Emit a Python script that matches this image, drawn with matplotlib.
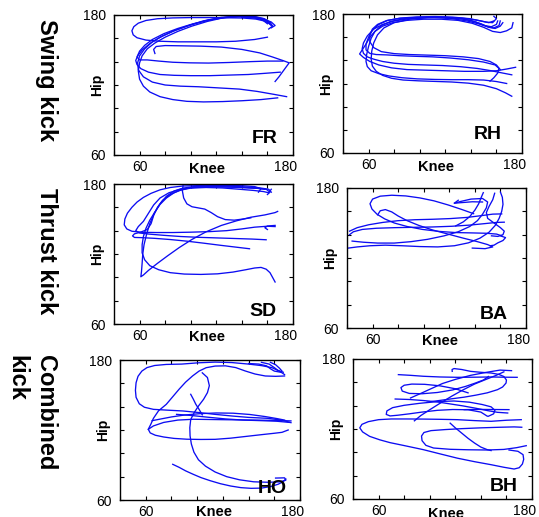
import numpy as np
import matplotlib
matplotlib.use('Agg')
import matplotlib.pyplot as plt
from matplotlib.transforms import ScaledTranslation

plt.rcParams['font.family'] = ['Liberation Sans', 'DejaVu Sans']

# (knee, hip) angle trajectories, degrees
FR = [
    [(168, 109), (155, 107.5), (140, 106.5), (125, 105.8), (110, 105.5), (97, 106), (86, 107.5), (76, 110),
     (68, 114), (63, 119), (60, 125), (59, 132), (60, 139), (62, 145), (66, 151), (72, 156), (80, 161),
     (90, 166), (101, 170.5), (113, 174.5), (125, 177.5), (137, 178.5), (148, 178), (156, 176), (160, 172.5)],
    [(175, 110), (165, 112), (152, 114.5), (138, 116.5), (122, 117.5), (106, 118.5), (92, 119), (80, 120),
     (70, 122.5), (63, 127), (59, 133), (58.5, 139), (60, 145), (64, 151), (70, 157), (78, 162), (88, 167),
     (100, 171.5), (113, 175.5), (127, 178), (140, 179), (151, 178.5), (158, 176.5), (162, 173)],
    [(170, 131), (158, 130), (145, 129), (130, 128.5), (115, 128), (100, 128), (87, 128.3), (76, 129),
     (67, 131), (61, 134), (58, 137.5), (57, 141), (58.5, 145), (62, 150), (68, 155.5), (76, 161), (86, 166),
     (97, 170.5), (110, 175), (124, 178), (137, 179), (149, 178.5), (157, 177), (162, 174), (164, 170.5)],
    [(166, 123), (169, 127), (173, 133), (177, 139), (172, 141), (164, 144), (154, 147.5), (140, 150.5),
     (124, 152.5), (108, 153.3), (92, 153.6), (80, 153.8), (73, 153), (71, 150.5), (72, 147)],
    [(172, 140.5), (160, 140.5), (146, 140), (130, 139.3), (114, 138.8), (99, 139), (86, 139.5), (75, 140.5),
     (66, 141.5), (60, 141.5), (58, 144), (60, 149), (64, 154), (70, 159), (79, 164), (90, 168.5),
     (102, 172.5), (116, 176), (130, 178.3), (143, 178.8), (153, 177.5), (159, 175), (163, 171)],
    [(160, 161), (150, 159), (135, 157.5), (120, 157), (105, 157), (90, 157), (76, 157.5), (65, 158.5),
     (58, 160.5), (55, 163), (54, 166.5), (55.5, 170), (59, 173), (65, 175.3), (74, 176.8), (86, 177.5),
     (100, 177.8), (114, 177.8), (128, 177.6), (141, 177.4), (151, 176.5), (157, 175), (161, 173),
     (164, 170.5), (161, 168)],
    [(140, 178), (150, 177.5), (158, 176), (163, 174), (166, 171), (163, 169)],
]

RH = [
    [(175, 134), (168, 132.5), (160, 131), (150, 130.5), (135, 130.5), (120, 131), (105, 131.5), (90, 132),
     (78, 133.5), (68, 136), (61, 139), (56, 142.5), (53, 145.5), (55, 149), (58, 154), (61, 160), (65, 165),
     (71, 169.5), (79, 172.5), (90, 174.5), (103, 175.5), (117, 175.5), (130, 174.5), (141, 172),
     (150, 168.5), (157, 165), (163, 164), (168, 165.5), (172, 168), (173, 172.5)],
    [(168, 120), (160, 121.7), (150, 123), (138, 123.3), (125, 123.3), (112, 123.5), (98, 124), (86, 125),
     (76, 126.5), (68, 128.5), (62, 131), (59, 134.6), (58, 139), (58.5, 145), (60, 152), (62, 159),
     (65, 165), (70, 170), (77, 173.5), (88, 176), (101, 177), (115, 177.3), (128, 176.5), (140, 174.5),
     (148, 171.5), (154, 168.5), (159, 167.5), (163, 169.5), (165, 172.5)],
    [(172, 109), (167, 112), (160, 115.5), (150, 118.5), (138, 120.3), (125, 121.3), (112, 121.8),
     (99, 122.3), (87, 123), (78, 124.5), (71, 127), (66, 130.5), (63, 135), (62, 141), (62.5, 148),
     (64, 155), (67, 162), (72, 168), (80, 172.5), (92, 175.5), (106, 176.8), (120, 177), (134, 175.8),
     (144, 173), (151, 170), (156, 169), (160, 171), (161, 174)],
    [(155, 122), (158, 125), (161, 129), (162, 133), (159, 136), (150, 138.5), (138, 140.5), (124, 142),
     (110, 143), (96, 143.5), (84, 144), (74, 144.7), (66, 145), (61, 146), (58, 149), (58, 154), (60, 160),
     (63, 166), (68, 171), (75, 174.5), (85, 176.5), (98, 177.5), (112, 177.8), (126, 177.3), (139, 176),
     (148, 174), (154, 172.5), (158, 174)],
    [(172, 127.5), (165, 129), (156, 131), (145, 133), (132, 134.5), (118, 135.5), (104, 136), (91, 136.5),
     (80, 137.5), (71, 139), (64, 141), (59, 143), (56, 146), (55, 150), (56, 155), (59, 161), (64, 167),
     (71, 171), (80, 174), (92, 176), (106, 177), (120, 177.2), (133, 176.5), (144, 174.8), (152, 173),
     (157, 172.5), (160, 176), (158, 178)],
    [(163, 132), (160, 136), (155, 139), (146, 141.5), (134, 143), (120, 144), (106, 144.5), (92, 145),
     (80, 145.8), (70, 147.5), (64, 151), (61, 156), (61, 162), (63, 167), (67, 171), (74, 174.3),
     (84, 176.2), (97, 177), (111, 177), (125, 176), (137, 174), (146, 171.5), (153, 169), (158, 168),
     (162, 170), (163, 174)],
]

SD = [
    [(166, 143.5), (160, 143.8), (150, 143), (140, 141.5), (128, 140), (115, 139.2), (100, 138.7),
     (86, 138.4), (73, 138.4), (62, 138.6), (54, 139.5), (50, 141.5), (48, 145), (48.5, 150), (50.5, 155),
     (54, 160), (58, 164.5), (63, 168.5), (69, 172), (76, 175), (84, 177), (94, 178.3), (106, 178.6),
     (120, 178.4), (134, 178), (146, 177.3), (155, 176.5), (161, 175.5), (163, 173)],
    [(166, 96), (164, 100), (162, 104), (159, 107), (155, 108.5), (150, 108), (143, 106.5), (133, 104.5),
     (121, 103), (108, 102.5), (95, 102.8), (84, 104), (75, 106.5), (68, 110), (64, 115), (62, 121),
     (62, 128), (63, 135), (65, 142), (68, 149), (72, 156), (76, 162.5), (81, 168), (87, 172.5),
     (94, 175.5), (102, 177.5), (113, 178.5), (127, 178.8), (141, 178.5), (150, 177.8), (155, 176),
     (153, 173)],
    [(168, 156.5), (166, 155.5), (158, 153.5), (147, 151.5), (136, 148.5), (124, 144.5), (112, 139),
     (101, 132.5), (91, 125.5), (82, 118.5), (74, 112), (67, 106), (63, 102), (61, 100.5), (61.5, 105),
     (62, 112), (62.5, 120), (63.5, 128), (65.5, 137), (68, 146), (71.5, 155), (76, 163), (81, 169.5),
     (87, 174), (94, 176.5), (103, 177.8), (115, 178), (128, 177.6), (141, 177), (152, 176.3),
     (159, 175.5), (162, 173), (160, 171)],
    [(146, 124.5), (136, 125.8), (123, 127.5), (110, 129.3), (97, 131), (84, 132.4), (72, 133.4), (62, 134),
     (56, 134.2), (54.5, 135.5), (56, 137.3), (61, 138.8), (66, 141), (69, 146), (71, 153), (74, 160),
     (78, 166), (84, 171), (91, 174.5), (100, 176.5), (112, 177), (125, 176.6), (138, 175.5), (149, 174.5),
     (157, 173.5), (161, 172.5), (163, 175.5)],
    [(159, 132.2), (148, 132.8), (134, 133.3), (120, 133.8), (106, 134.3), (92, 135), (79, 136), (68, 137),
     (60, 138), (57, 140), (59, 143.5), (63, 148), (67, 155), (71, 162), (76, 168), (83, 172.5),
     (92, 175.5), (103, 177), (116, 177.5), (130, 177.3), (143, 176.8), (153, 176.2), (158, 175.5)],
    [(94, 178.5), (93.5, 174), (94.5, 168), (97, 163), (101, 160.5), (106, 159.5), (111, 158.5),
     (116, 155.5), (121, 152), (127, 149.5), (134, 149), (141, 150), (147, 151)],
    [(160, 141), (158, 142.5), (160, 144), (166, 144.5)],
]

BA = [
    [(41, 128.5), (48, 129.5), (58, 130.5), (70, 131), (83, 130.5), (97, 129.8), (111, 129.5), (124, 130.5),
     (135, 133), (144, 137), (151, 142), (156, 148), (159, 154), (161, 160), (162, 166), (161.5, 172),
     (160, 176.5)],
    [(42, 140), (45, 142.5), (52, 144.5), (63, 145.5), (77, 146), (92, 146.3), (107, 146.6), (122, 147.2),
     (136, 148.2), (148, 149.5), (157, 150.5), (163, 150.7)],
    [(139, 158), (130, 161.5), (119, 165.5), (108, 169), (97, 171.5), (86, 173.2), (75, 173.8), (66, 173),
     (60, 170.5), (58, 166.5), (59.5, 162), (63.5, 157.5), (69.5, 153.5), (77, 150), (87, 147), (99, 144.5),
     (112, 142.8), (125, 141.8), (138, 141.5), (149, 141.2), (157, 140.5), (161, 139)],
    [(42, 143), (48, 146), (57, 148.5), (68, 150.5), (80, 152), (93, 152.8), (107, 153.2), (121, 153.8),
     (134, 154.8), (145, 156.3), (154, 157.6), (161, 157.8)],
    [(64, 157), (66, 160.5), (70, 161.5), (75, 159.5), (80, 156), (87, 152), (96, 148), (107, 144),
     (119, 140.5), (131, 137), (142, 134), (150, 131.5), (154, 129.5), (148, 128), (138, 128.5)],
    [(44, 134.5), (53, 133.5), (64, 132.8), (77, 132.8), (90, 134), (103, 136), (116, 139), (127, 142.5),
     (136, 147), (142, 152), (146, 157.5), (149, 163), (150, 168), (146, 171), (137, 170.5), (129, 168.5),
     (124, 167)],
    [(146.6, 176), (145, 172), (143, 166.5), (140, 161), (136, 155.5), (131, 151), (125, 147.5)],
    [(155.5, 175.5), (154, 170), (151, 164), (149, 159), (150, 154), (155, 150), (160, 146), (163, 143),
     (162, 140), (158, 138.5), (153, 139)],
    [(152, 130.5), (155, 131), (158, 133), (162, 135), (164, 137.5), (160, 139)],
    [(146, 168), (138, 168.2), (130, 167.5), (124, 167), (127, 169.5)],
]

HO = [
    [(173, 126.3), (165.6, 128.5), (155, 130), (140, 130.8), (127, 132), (114, 133.4), (101, 135), (89, 136.3),
     (77, 137), (66, 137.7), (59, 139.5), (55, 142.5), (52.5, 148), (52, 154), (52.5, 160.5), (54, 166),
     (57, 170.5), (61, 173.5), (67, 175.3), (76, 176.2), (88, 176.5), (101, 177.6), (114, 178.2),
     (127, 177.8), (140, 176.5), (150, 175.2), (158, 173.5), (164, 170.5), (168, 167.5)],
    [(173, 127.8), (163, 128.2), (150, 128.4), (137, 128.6), (123, 128.8), (110, 129), (97, 129.2), (85, 128.5),
     (74, 126.5), (66, 123.5), (62, 120.6), (63.5, 117.5), (67.5, 115.5), (74, 114), (82, 112.8),
     (92, 112.1), (103, 111.9), (114, 112), (126, 113), (138, 114.5), (150, 116), (160, 117.2), (166, 118),
     (170.8, 120)],
    [(62, 120.6), (64, 125), (66, 130), (70, 136.5), (76, 142), (81, 148.5), (86, 155), (91, 161),
     (96.4, 166.3), (101.5, 170.5), (107, 173.4), (114, 174.8), (122, 175), (130, 173.5), (137.4, 170.6),
     (145, 168), (153, 166.3), (161, 166), (168, 166.3)],
    [(104, 169), (108, 165), (109.5, 158), (108, 152), (105, 146.3), (101, 140.5), (97.5, 134.5), (95, 129),
     (94.3, 122), (94.5, 115), (95.5, 108), (97.5, 101), (101, 94.5), (106.5, 89), (114, 84), (123, 80),
     (133, 77.3), (144, 75.6), (155, 75.2), (164, 75.5), (169, 77), (168, 79), (161, 78.8)],
    [(95, 150.6), (97, 146.5), (99, 142), (101.5, 137.7), (104, 133)],
    [(81, 90.6), (86, 88), (91, 85), (97, 82), (103, 79.2), (110, 76.6), (118, 74), (126, 72), (134, 70.6),
     (142, 70), (150, 70.2), (157, 71.5), (163, 73.5), (167, 75.8), (169, 78)],
    [(65, 128), (72, 129.5), (80, 131.2), (90, 132.8), (102, 134), (115, 134.6), (128, 134.4), (141, 133.3),
     (153, 131.5), (162, 129.8), (168, 128.5)],
    [(84, 133.4), (95, 132.5), (108, 131), (122, 129.5), (136, 128.5), (150, 128), (162, 127.5), (172, 126.5)],
    [(140, 177), (148, 176.5), (154, 175), (157, 172.5), (160, 170.5), (165, 169.5)],
    [(150, 178), (156, 176.5), (160, 173.5), (163, 171), (167, 169.5)],
    [(157, 178), (161, 176), (164, 173), (166, 170.5)],
]

BH = [
    [(171.6, 128), (160, 127.5), (148, 126.6), (135, 127.2), (121.6, 128), (108, 128.3), (95, 128.5),
     (82, 128.6), (70, 128.6), (60, 128), (52, 126.3), (47, 124), (45.3, 121), (47.5, 117.5), (53, 113.7),
     (61, 110.7), (69, 108.3), (80, 105.8), (95, 102.3), (108, 98.7), (121.6, 95), (135, 92), (148, 89.4),
     (158, 87.2), (166, 85.7), (170, 86.8), (172.5, 90), (173.5, 94), (173, 98), (169, 100.9), (162, 102)],
    [(175.5, 105.7), (168, 104), (158, 102.5), (145, 102), (130, 102.2), (116, 102.6), (103, 103.7), (97, 106),
     (94, 110), (93.6, 114), (95.5, 117), (101, 118.6), (112, 119.5), (125, 120.3), (140, 121), (155, 121.5),
     (166, 121.8), (172, 121.5)],
    [(116, 125), (120, 121), (125, 116.5), (130, 112), (135, 108), (140, 104.5), (145, 102.3), (148, 101.5)],
    [(75.5, 166.6), (85, 166), (95, 165.2), (108, 164.6), (121.6, 164.3), (135, 164.4), (148, 164.6),
     (158, 164.4), (168.4, 164.3)],
    [(117.6, 169.4), (117.5, 171), (119, 171.8), (125, 171), (132, 169.4), (140, 168.6), (148, 168),
     (154, 166.8), (158, 165), (160, 162), (159.7, 159.4), (157, 156), (153, 153.7), (145, 151), (136, 149),
     (127, 147.3), (118, 146), (108, 144.5), (98, 143)],
    [(73, 145.7), (84, 145.3), (95, 144.4), (106, 143.2), (116, 141.5), (126, 139.8), (136, 137.8),
     (145, 135.8), (153, 134.3), (161, 133.7)],
    [(145, 131), (140, 134.5), (130, 136.5), (118, 136.7), (106, 136), (94, 134.5), (84, 133), (75, 131.8),
     (69, 131.2), (66, 132.5), (66.5, 135.5), (71, 138.3), (80, 140.3), (92, 142), (106, 143.5), (119, 144),
     (131, 143), (141, 141), (148, 139), (151, 136), (150, 133), (146, 131)],
    [(130, 151), (120, 154.5), (108, 157), (96, 158.3), (86, 158.5), (80, 157.5), (77.5, 155.5), (78.5, 152.5),
     (84, 150.5), (94, 150.2), (106, 151.3), (118, 153.5), (128, 156.5), (136, 159.5), (142, 162), (146, 165)],
    [(88, 127), (93, 131.5), (100, 136.5), (108, 142), (117, 148), (126, 153.5), (135, 158.5), (144, 162.5),
     (152, 166), (158, 169)],
    [(127, 136.6), (138, 136.8), (150, 136.7), (162, 136.6)],
    [(85, 146.6), (92, 150), (100, 154), (110, 159), (120, 162.5), (132, 166), (144, 168.5), (155, 170.5),
     (164, 170)],
]

PANELS = ['FR', 'RH', 'SD', 'BA', 'HO', 'BH']
TRIALS = [FR, RH, SD, BA, HO, BH]
ROW_LABELS = ['Swing kick', 'Thrust kick']

X_TICKS = np.arange(40, 181, 20)
X_LABELS = ['', '60', '', '', '', '', '', '180']
Y_TICKS = np.arange(60, 181, 20)
Y_LABELS = ['60', '', '', '', '', '', '180']

W, H = 539, 517
# axes boxes in pixels: left, top, right, bottom ; panel name offset (px from right, px from bottom)
BOXES = [(114, 15, 293, 155), (343, 14, 522, 153),
         (114, 184, 293, 324), (347, 188, 526, 328),
         (120, 360, 300, 500), (353, 359, 532, 499)]
NAME_OFF = [(15, 12), (20, 14), (17, 8), (18, 9), (13, 7), (14, 8)]
KNEE_DY = [14, 14, 13, 13, 11.5, 15]

fig = plt.figure(figsize=(W / 100, H / 100), dpi=100)
shift_180 = ScaledTranslation(-7 / 100, 0, fig.dpi_scale_trans)

for name, trials, box, off, kdy in zip(PANELS, TRIALS, BOXES, NAME_OFF, KNEE_DY):
    l, t, r, b = box
    ax = fig.add_axes([l / W, 1 - b / H, (r - l) / W, (b - t) / H])
    for tr in trials:
        k, h = np.array(tr).T
        ax.plot(k, h, color='#0c0cf2', lw=0.95, solid_joinstyle='round')
    ax.set_xlim(40, 180)
    ax.set_ylim(60, 180)
    ax.set_xticks(X_TICKS)
    ax.set_xticklabels(X_LABELS)
    ax.set_yticks(Y_TICKS)
    ax.set_yticklabels(Y_LABELS)
    ax.tick_params(direction='in', top=True, right=True, length=3, width=0.8, labelsize=10)
    ax.tick_params(axis='x', pad=3.5)
    ax.tick_params(axis='y', pad=6)
    lab = ax.get_xticklabels()[-1]
    lab.set_transform(lab.get_transform() + shift_180)
    for s in ax.spines.values():
        s.set_linewidth(1.0)
    bw, bh = r - l, b - t
    ax.text(0.52, -kdy / bh, 'Knee', transform=ax.transAxes, ha='center', va='center',
            fontsize=10.5, fontweight='bold')
    ax.text(-17 / bw, 0.5, 'Hip', transform=ax.transAxes, ha='center', va='center',
            rotation=90, fontsize=10, fontweight='bold')
    ax.text(1 - off[0] / bw, off[1] / bh, name, transform=ax.transAxes, ha='right', va='baseline',
            fontsize=14, fontweight='bold')

fig.text(46 / W, 1 - 80 / H, ROW_LABELS[0], rotation=270, ha='center', va='center',
         fontsize=17, fontweight='bold')
fig.text(46 / W, 1 - 251 / H, ROW_LABELS[1], rotation=270, ha='center', va='center',
         fontsize=17, fontweight='bold')
fig.text(45 / W, 1 - 355 / H, 'Combined', rotation=270, ha='center', va='top',
         fontsize=17, fontweight='bold')
fig.text(17 / W, 1 - 355 / H, 'kick', rotation=270, ha='center', va='top',
         fontsize=17, fontweight='bold')

fig.savefig('out.png', dpi=100)
